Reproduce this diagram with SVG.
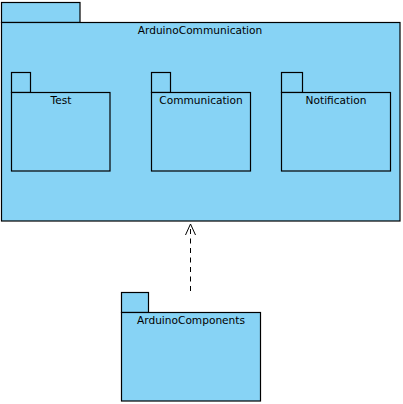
<svg xmlns="http://www.w3.org/2000/svg" width="403" height="404" viewBox="0 0 403 404">
<style>
.pk{fill:#87d3f5;stroke:#000;stroke-width:1.2}
.lb{font-family:"DejaVu Sans",sans-serif;font-size:10.6px;fill:#000;text-anchor:middle}
.dep{fill:none;stroke:#000;stroke-width:1;stroke-dasharray:5,4.5}
.ah{fill:none;stroke:#000;stroke-width:1}
</style>
<rect width="403" height="404" fill="#fff"/>
<g id="ArduinoCommunication">
<rect class="pk" x="1.5" y="2.5" width="78.5" height="20"/>
<rect class="pk" x="1.5" y="22.5" width="398.5" height="198.5"/>
<text class="lb" x="200" y="33.5">ArduinoCommunication</text>
</g>
<g id="Test">
<rect class="pk" x="11.5" y="72.5" width="19" height="20"/>
<rect class="pk" x="11.5" y="92.5" width="98.5" height="78.5"/>
<text class="lb" x="61" y="103.5">Test</text>
</g>
<g id="Communication">
<rect class="pk" x="151.5" y="72.5" width="19" height="20"/>
<rect class="pk" x="151.5" y="92.5" width="99" height="78.5"/>
<text class="lb" x="201" y="103.5">Communication</text>
</g>
<g id="Notification">
<rect class="pk" x="281.5" y="72.5" width="21" height="20"/>
<rect class="pk" x="281.5" y="92.5" width="109" height="78.5"/>
<text class="lb" x="336" y="103.5">Notification</text>
</g>
<g id="ArduinoComponents">
<rect class="pk" x="121.5" y="292.5" width="27" height="20"/>
<rect class="pk" x="121.5" y="312.5" width="139" height="88.5"/>
<text class="lb" x="191" y="323.5">ArduinoComponents</text>
</g>
<g id="connectors">
<line class="dep" x1="190.5" y1="291" x2="190.5" y2="225"/>
<polyline class="ah" points="185.5,235 190.5,224 195.5,235"/>
</g>
</svg>
